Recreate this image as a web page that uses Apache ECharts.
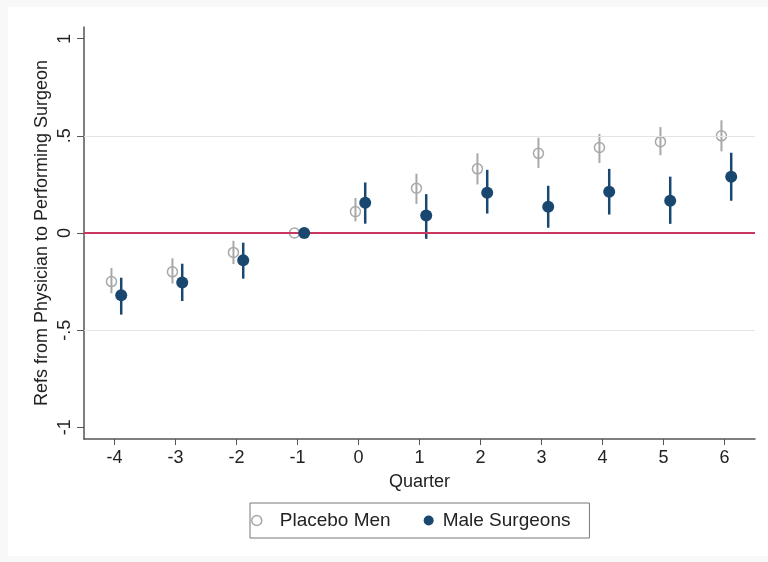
<!DOCTYPE html>
<html>
<head>
<meta charset="utf-8">
<script src="https://cdn.jsdelivr.net/npm/echarts@6/dist/echarts.min.js"></script>
<style>html,body{margin:0;padding:0;background:#fff}#c{width:768px;height:562px}</style>
</head>
<body>
<div id="c"></div>
<script>
const quarters = [-4, -3, -2, -1, 0, 1, 2, 3, 4, 5, 6];
const placeboEst = [-0.25, -0.20, -0.10, 0, 0.11, 0.23, 0.33, 0.41, 0.44, 0.47, 0.50];
const placeboLo  = [-0.31, -0.26, -0.16, 0, 0.06, 0.15, 0.25, 0.335, 0.36, 0.40, 0.42];
const placeboHi  = [-0.18, -0.13, -0.04, 0, 0.18, 0.305, 0.41, 0.49, 0.51, 0.545, 0.58];
const maleEst = [-0.32, -0.255, -0.14, 0, 0.156, 0.09, 0.207, 0.135, 0.212, 0.166, 0.29];
const maleLo  = [-0.42, -0.35, -0.235, 0, 0.048, -0.03, 0.10, 0.027, 0.095, 0.047, 0.166];
const maleHi  = [-0.23, -0.158, -0.05, 0, 0.26, 0.20, 0.325, 0.243, 0.33, 0.29, 0.413];
const xTicks = [-4, -3, -2, -1, 0, 1, 2, 3, 4, 5, 6];
const xTickLabels = ['-4', '-3', '-2', '-1', '0', '1', '2', '3', '4', '5', '6'];
const yTicks = [-1, -0.5, 0, 0.5, 1];
const yTickLabels = ['-1', '-.5', '0', '.5', '1'];
const seriesNames = ['Placebo Men', 'Male Surgeons'];
const xTitle = 'Quarter';
const yTitle = 'Refs from Physician to Performing Surgeon';

const placeboOffset = -0.05;
const maleOffset = 0.11;

const navy = '#1a476f';
const gray = '#a8a8a8';
const axisColor = '#555555';
const font = 'Liberation Sans, Arial, Helvetica, sans-serif';

function ciData(est, lo, hi, off) {
  const out = [];
  quarters.forEach((q, i) => { if (hi[i] !== lo[i]) out.push([q + off, lo[i], hi[i]]); });
  return out;
}
function ptData(est, off) { return quarters.map((q, i) => [q + off, est[i]]); }
function barRender(color, width) {
  return function (params, api) {
    const a = api.coord([api.value(0), api.value(1)]);
    const b = api.coord([api.value(0), api.value(2)]);
    return { type: 'line', shape: { x1: a[0], y1: a[1], x2: b[0], y2: b[1] },
             style: { stroke: color, lineWidth: width } };
  };
}

const chart = echarts.init(document.getElementById('c'), null, { renderer: 'canvas' });
chart.setOption({
  animation: false,
  backgroundColor: '#f8f8f8',
  textStyle: { fontFamily: font },
  graphic: [{ type: 'rect', z: -10, silent: true, shape: { x: 8, y: 7, width: 760, height: 549 }, style: { fill: '#ffffff' } }],
  grid: { left: 84, right: 13, top: 27, bottom: 123, containLabel: false },
  xAxis: {
    type: 'value', min: -4.5, max: 6.5,
    name: xTitle, nameLocation: 'middle', nameGap: 34,
    nameTextStyle: { fontSize: 18, color: '#222', fontFamily: font },
    axisLine: { show: true, onZero: false, lineStyle: { color: axisColor, width: 1.5 } },
    axisTick: { show: true, customValues: xTicks, length: 6, lineStyle: { color: axisColor } },
    axisLabel: { customValues: xTicks, margin: 10, fontSize: 18, color: '#222', fontFamily: font,
      formatter: v => { const i = xTicks.indexOf(v); return i >= 0 ? xTickLabels[i] : ''; } },
    splitLine: { show: false }
  },
  yAxis: {
    type: 'value', min: -1.06, max: 1.06,
    name: yTitle, nameLocation: 'middle', nameGap: 33, nameRotate: 90, nameMoveOverlap: false,
    nameTextStyle: { fontSize: 18, color: '#222', fontFamily: font },
    axisLine: { show: true, onZero: false, lineStyle: { color: axisColor, width: 1.5 } },
    axisTick: { show: true, customValues: yTicks, length: 7, lineStyle: { color: axisColor } },
    axisLabel: { customValues: yTicks, rotate: 90, margin: 10, fontSize: 18, color: '#222', fontFamily: font,
      formatter: v => { const i = yTicks.indexOf(v); return i >= 0 ? yTickLabels[i] : ''; } },
    splitLine: { show: false }
  },
  legend: {
    left: 250, top: 503,
    orient: 'horizontal',
    padding: [8, 19, 8, 1],
    borderColor: '#777', borderWidth: 1,
    itemWidth: 10, itemHeight: 10, itemGap: 33,
    textStyle: { fontSize: 19, color: '#222', fontFamily: font,
      rich: { a: { fontSize: 19, padding: [0, 0, 0, 13], fontFamily: font, color: '#222' },
              b: { fontSize: 19, padding: [0, 0, 0, 4], fontFamily: font, color: '#222' } } },
    formatter: n => (n === seriesNames[0] ? '{a|' + n + '}' : '{b|' + n + '}'),
    data: [
      { name: seriesNames[0], icon: 'circle', itemStyle: { color: '#ffffff', borderColor: gray, borderWidth: 1.5 } },
      { name: seriesNames[1], icon: 'circle', itemStyle: { color: navy } }
    ]
  },
  series: [
    { type: 'line', name: 'ref', data: [], z: 0, silent: true,
      markLine: { silent: true, symbol: 'none', label: { show: false }, animation: false,
        data: [
          { yAxis: 0.5, lineStyle: { color: '#e4e4e4', width: 1, type: 'solid' } },
          { yAxis: -0.5, lineStyle: { color: '#e4e4e4', width: 1, type: 'solid' } },
          { yAxis: 0, lineStyle: { color: '#c8385f', width: 2, type: 'solid' } }
        ] } },
    { type: 'custom', name: 'Placebo CI', z: 2, silent: true, renderItem: barRender(gray, 2),
      data: ciData(placeboEst, placeboLo, placeboHi, placeboOffset) },
    { type: 'scatter', name: seriesNames[0], z: 3, symbol: 'circle', symbolSize: 10,
      itemStyle: { color: 'rgba(255,255,255,0)', borderColor: gray, borderWidth: 1.5, opacity: 1 },
      data: ptData(placeboEst, placeboOffset) },
    { type: 'custom', name: 'Male CI', z: 4, silent: true, renderItem: barRender(navy, 2.5),
      data: ciData(maleEst, maleLo, maleHi, maleOffset) },
    { type: 'scatter', name: seriesNames[1], z: 5, symbol: 'circle', symbolSize: 12,
      itemStyle: { color: navy, opacity: 1 },
      data: ptData(maleEst, maleOffset) }
  ]
});
</script>
</body>
</html>
